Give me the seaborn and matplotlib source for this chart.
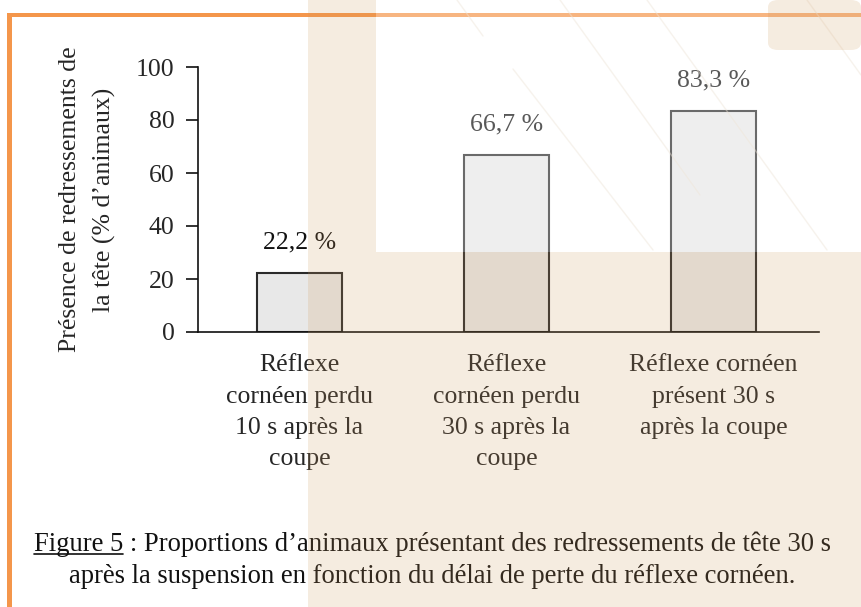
import matplotlib
matplotlib.use("Agg")
import matplotlib.pyplot as plt
from matplotlib.patches import Polygon, Rectangle, FancyBboxPatch
from matplotlib.lines import Line2D
import seaborn as sns
import pandas as pd

# data
categories = [
    "Réflexe\ncornéen perdu\n10 s après la\ncoupe",
    "Réflexe\ncornéen perdu\n30 s après la\ncoupe",
    "Réflexe cornéen\nprésent 30 s\naprès la coupe",
]
values = [22.2, 66.7, 83.3]
value_labels = ["22,2 %", "66,7 %", "83,3 %"]
y_ticks = [0, 20, 40, 60, 80, 100]
y_label = "Présence de redressements de\nla tête (% d’animaux)"
caption_1 = "Figure 5 : Proportions d’animaux présentant des redressements de tête 30 s"
caption_2 = "après la suspension en fonction du délai de perte du réflexe cornéen."

W, H = 861, 607
FS = 18.5      # chart text
CAP_FS = 19.2  # caption text

sns.set_theme(style="white")
plt.rcParams["font.family"] = ["Liberation Serif", "DejaVu Serif"]
plt.rcParams["text.color"] = "#111111"


def px(x, y):
    # pixel position (from top-left) -> figure fraction
    return (x / W, 1 - y / H)


fig = plt.figure(figsize=(W / 100, H / 100), dpi=100)
fig.patch.set_facecolor("white")

x0, y0 = px(198, 332)
x1, y1 = px(819, 67)
ax = fig.add_axes([x0, y0, x1 - x0, y1 - y0])
ax.set_facecolor("none")

df = pd.DataFrame({"cat": categories, "val": values})
sns.barplot(data=df, x="cat", y="val", color="#e8e8e8", edgecolor="#2b2b2b",
            linewidth=1.5, width=0.41, saturation=1, ax=ax)

ax.set_xlim(-0.49, 2.51)
ax.set_ylim(0, 100)
ax.set_yticks(y_ticks)
ax.tick_params(axis="y", direction="out", length=9, width=1.2, color="#111111",
               labelsize=FS, pad=8, left=True)
ax.tick_params(axis="x", length=0, labelsize=FS, pad=16)
for lab in ax.get_xticklabels():
    lab.set_linespacing(1.55)
ax.set_xlabel("")
ax.set_ylabel(y_label, fontsize=FS, labelpad=14, linespacing=1.68)
for s in ["top", "right"]:
    ax.spines[s].set_visible(False)
for s in ["left", "bottom"]:
    ax.spines[s].set_color("#111111")
    ax.spines[s].set_linewidth(1.2)

ax.bar_label(ax.containers[0], labels=value_labels, padding=14, fontsize=FS)

# caption
cx, cy1 = px(432, 551)
_, cy2 = px(432, 583)
t1 = fig.text(cx, cy1, caption_1, ha="center", va="baseline", fontsize=CAP_FS,
              zorder=1)
fig.text(cx, cy2, caption_2, ha="center", va="baseline", fontsize=CAP_FS,
         zorder=1)
fig.canvas.draw()
r = fig.canvas.get_renderer()
bb = t1.get_window_extent(r)
tmp = fig.text(0, 0, "Figure 5", fontsize=CAP_FS)
wb = tmp.get_window_extent(r)
tmp.remove()
ul_y = cy1 * H - 3
fig.add_artist(Line2D([bb.x0 / W, (bb.x0 + wb.width) / W], [ul_y / H, ul_y / H],
                      transform=fig.transFigure, color="#111111", lw=1.2,
                      zorder=1))

# page decoration: orange frame
orange = "#f4964b"
fig.add_artist(Rectangle(px(7, 17), (W - 7) / W, 4.5 / H, transform=fig.transFigure,
                         color=orange, lw=0, zorder=2))
fig.add_artist(Rectangle(px(7, H), 5 / W, (H - 13) / H, transform=fig.transFigure,
                         color=orange, lw=0, zorder=2))

# faint diagonal lines in the top right
for (a, b) in [((457, 0), (483, 36)), ((513, 69), (653, 250)),
               ((647, 0), (827, 250)), ((807, 0), (861, 75)),
               ((560, 0), (700, 195))]:
    fig.add_artist(Line2D([px(*a)[0], px(*b)[0]], [px(*a)[1], px(*b)[1]],
                          transform=fig.transFigure, color="#e6d9c6", lw=1,
                          alpha=0.45, zorder=3))

# translucent white square and peach overlay
fig.add_artist(Rectangle(px(376, 252), (W - 376) / W, 252 / H,
                         transform=fig.transFigure, color="white", alpha=0.3,
                         lw=0, zorder=4))
peach = "#cf9a5c"
poly = [px(308, 0), px(376, 0), px(376, 252), px(W, 252), px(W, H), px(308, H)]
fig.add_artist(Polygon(poly, closed=True, transform=fig.transFigure,
                       facecolor=peach, alpha=0.19, lw=0, zorder=5))
fig.add_artist(FancyBboxPatch(px(768, 50), (W - 768) / W, 50 / H,
                              boxstyle="round,pad=0,rounding_size=0.012",
                              transform=fig.transFigure, facecolor=peach,
                              alpha=0.19, lw=0, zorder=5))

fig.savefig("out.png", dpi=100)
